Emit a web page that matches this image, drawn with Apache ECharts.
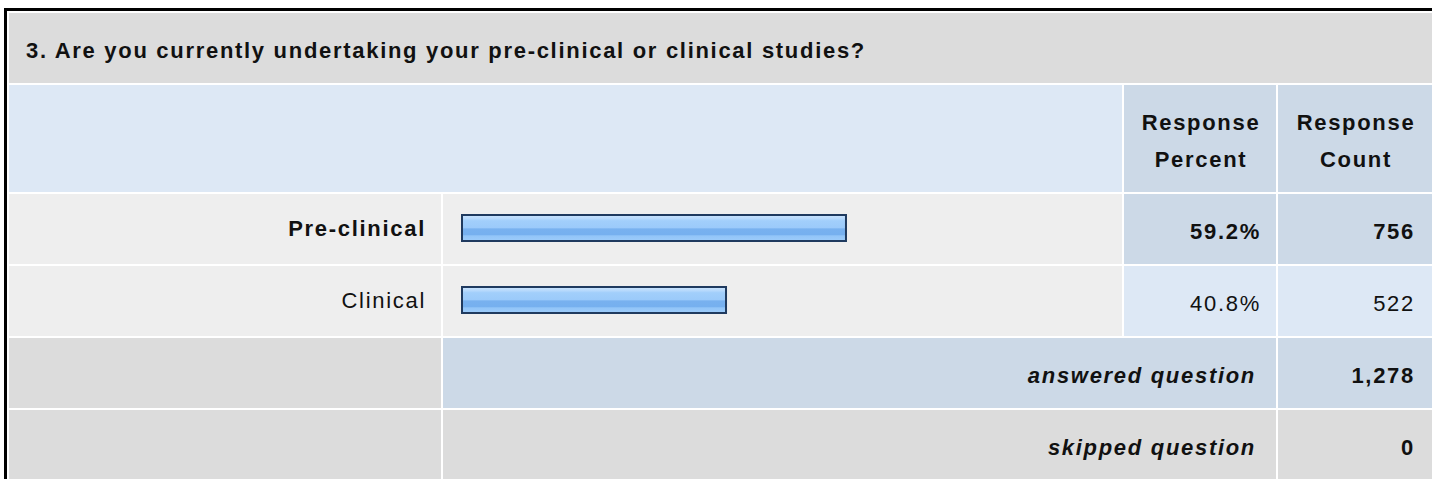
<!DOCTYPE html>
<html>
<head>
<meta charset="utf-8">
<script src="https://cdn.jsdelivr.net/npm/echarts@6/dist/echarts.min.js"></script>
<style>
  html, body { margin: 0; padding: 0; background: #ffffff; }
  #main { width: 1432px; height: 479px; }
  #main text { letter-spacing: 1.7px; }
</style>
</head>
<body>
<div id="main"></div>
<script>
// ---- data ----
const questionTitle = '3. Are you currently undertaking your pre-clinical or clinical studies?';
const categories = ['Pre-clinical', 'Clinical'];
const responsePercent = [59.2, 40.8];
const responseCount = [756, 522];
const headerLabels = ['Response\nPercent', 'Response\nCount'];
const answeredLabel = 'answered question';
const answeredCount = 1278;
const skippedLabel = 'skipped question';
const skippedCount = 0;

// ---- styles ----
const FONT = '"Liberation Sans", Arial, Helvetica, sans-serif';
const FS = 22;
const GREY = '#DCDCDC';
const LIGHT = '#EEEEEE';
const BLUE_L = '#DDE8F5';
const BLUE_D = '#CCD9E7';
const TXT = '#111111';

function rect(x, y, w, h, fill) {
  return { type: 'rect', z: -10, silent: true, shape: { x: x, y: y, width: w, height: h }, style: { fill: fill } };
}
function text(str, x, y, align, weight, style) {
  return {
    type: 'text', z: 10, silent: true, x: x, y: y,
    style: {
      text: str, fill: TXT, font: (style || 'normal') + ' ' + (weight || 'bold') + ' ' + FS + 'px ' + FONT,
      align: align, verticalAlign: 'middle', lineHeight: 36.7
    }
  };
}

const fmtPct = v => v.toFixed(1) + '%';
const fmtCount = v => v.toLocaleString('en-US');

const graphics = [
  // outer frame
  { type: 'rect', z: -10, silent: true, shape: { x: 4, y: 8, width: 3, height: 471 }, style: { fill: '#000' } },
  { type: 'rect', z: -10, silent: true, shape: { x: 4, y: 8, width: 1428, height: 3 }, style: { fill: '#000' } },
  // title row
  rect(9, 13, 1423, 70, GREY),
  // header row
  rect(9, 85, 1113, 107, BLUE_L),
  rect(1124, 85, 152, 107, BLUE_D),
  rect(1278, 85, 154, 107, BLUE_D),
  // Pre-clinical row
  rect(9, 194, 432, 70, LIGHT),
  rect(443, 194, 679, 70, LIGHT),
  rect(1124, 194, 152, 70, BLUE_D),
  rect(1278, 194, 154, 70, BLUE_D),
  // Clinical row
  rect(9, 266, 432, 70, LIGHT),
  rect(443, 266, 679, 70, LIGHT),
  rect(1124, 266, 152, 70, BLUE_L),
  rect(1278, 266, 154, 70, BLUE_L),
  // answered row
  rect(9, 338, 432, 70, GREY),
  rect(443, 338, 833, 70, BLUE_D),
  rect(1278, 338, 154, 70, BLUE_D),
  // skipped row
  rect(9, 410, 432, 70, GREY),
  rect(443, 410, 833, 70, GREY),
  rect(1278, 410, 154, 70, GREY),
  // texts
  text(questionTitle, 26, 50, 'left', 'bold'),
  text(headerLabels[0], 1201, 141, 'center', 'bold'),
  text(headerLabels[1], 1356, 141, 'center', 'bold'),
  text(answeredLabel, 1256, 375, 'right', 'bold', 'italic'),
  text(fmtCount(answeredCount), 1415, 375, 'right', 'bold'),
  text(skippedLabel, 1256, 447, 'right', 'bold', 'italic'),
  text(fmtCount(skippedCount), 1415, 447, 'right', 'bold')
];

const chart = echarts.init(document.getElementById('main'), null, { renderer: 'svg', width: 1432, height: 479 });

const barGradient = new echarts.graphic.LinearGradient(0, 0, 0, 1, [
  { offset: 0.00, color: '#CBE4FD' },
  { offset: 0.14, color: '#B7D9FC' },
  { offset: 0.22, color: '#A2CFFB' },
  { offset: 0.50, color: '#9BCAFA' },
  { offset: 0.53, color: '#78B1EF' },
  { offset: 0.76, color: '#76B0EF' },
  { offset: 0.80, color: '#92C5F8' },
  { offset: 1.00, color: '#9DCCFA' }
]);

chart.setOption({
  animation: false,
  backgroundColor: '#ffffff',
  graphic: graphics,
  grid: { left: 461, top: 192, width: 652, height: 144, containLabel: false, outerBoundsMode: 'none' },
  xAxis: { type: 'value', min: 0, max: 100, show: false },
  yAxis: {
    type: 'category', position: 'left', inverse: true,
    data: categories.map((c, i) => ({ value: c, textStyle: { fontWeight: i === 0 ? 'bold' : 'normal' } })),
    axisLine: { show: false }, axisTick: { show: false }, splitLine: { show: false },
    axisLabel: { margin: 35, fontFamily: FONT, fontSize: FS, color: TXT, padding: [7, 0, 0, 0] }
  },
  series: [{
    type: 'bar',
    data: responsePercent,
    barWidth: 28,
    silent: true,
    itemStyle: { color: barGradient, borderColor: '#1F3A5F', borderWidth: 2 }
  }]
});

// percent / count columns, placed on the category scale of the chart
const colTexts = [];
categories.forEach((c, i) => {
  const y = chart.convertToPixel({ yAxisIndex: 0 }, c) + 3;
  const w = i === 0 ? 'bold' : 'normal';
  colTexts.push(text(fmtPct(responsePercent[i]), 1261, y, 'right', w));
  colTexts.push(text(fmtCount(responseCount[i]), 1415, y, 'right', w));
});
chart.setOption({ graphic: graphics.concat(colTexts) });
</script>
</body>
</html>
